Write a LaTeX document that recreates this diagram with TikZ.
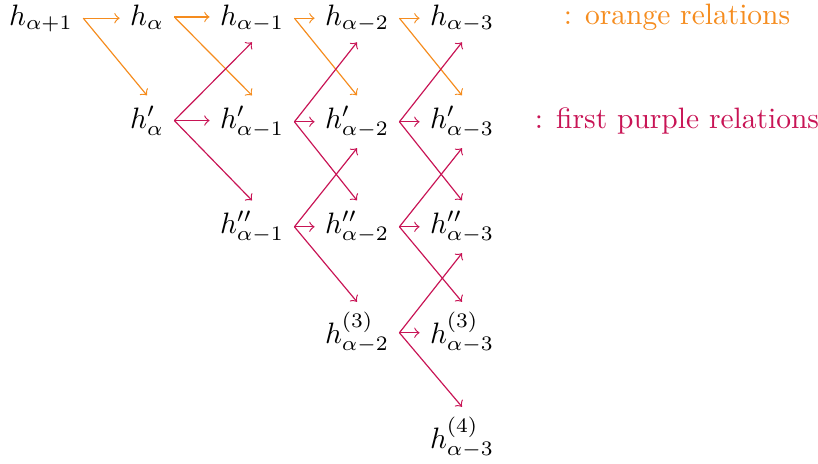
\documentclass[tikz,border=0pt]{standalone}
\usepackage{xcolor}
\definecolor{orel}{RGB}{245,140,30}
\definecolor{purel}{RGB}{200,20,85}
\begin{document}
\begin{tikzpicture}[x=0.339pt,y=-0.339pt,
  mn/.style={anchor=base, inner sep=0.333em},
  oarr/.style={->, draw=orel, line width=0.4pt},
  parr/.style={->, draw=purel, line width=0.4pt},
  lab/.style={anchor=base, inner sep=0pt}]
\useasboundingbox (0,0) rectangle (818,464);
% row 0
\node[mn] (a0) at (41,25)  {$h_{\alpha+1}$};
\node[mn] (a1) at (147,25) {$h_{\alpha}$};
\node[mn] (a2) at (252,25) {$h_{\alpha-1}$};
\node[mn] (a3) at (357,25) {$h_{\alpha-2}$};
\node[mn] (a4) at (462,25) {$h_{\alpha-3}$};
% row 1
\node[mn] (b1) at (147,128) {$h'_{\alpha}$};
\node[mn] (b2) at (252,128) {$h'_{\alpha-1}$};
\node[mn] (b3) at (357,128) {$h'_{\alpha-2}$};
\node[mn] (b4) at (462,128) {$h'_{\alpha-3}$};
% row 2
\node[mn] (c2) at (252,233) {$h''_{\alpha-1}$};
\node[mn] (c3) at (357,233) {$h''_{\alpha-2}$};
\node[mn] (c4) at (462,233) {$h''_{\alpha-3}$};
% row 3
\node[mn] (d3) at (357,343) {$h^{(3)}_{\alpha-2}$};
\node[mn] (d4) at (462,343) {$h^{(3)}_{\alpha-3}$};
% row 4
\node[mn] (e4) at (462,448) {$h^{(4)}_{\alpha-3}$};
% legend
\node[lab, text=orel] (lo) at (677,24) {: orange relations};
\node[lab, text=purel] (lp) at (677,128) {: first purple relations};
% orange relations
\draw[oarr] (a0.east) -- (a1.west |- a0.east);
\draw[oarr] (a0.east) -- (b1.north);
\draw[oarr] (a1.east) -- (a2.west |- a1.east);
\draw[oarr] (a1.east) -- (b2.north);
\draw[oarr] (a2.east) -- (a3.west |- a2.east);
\draw[oarr] (a2.east) -- (b3.north);
\draw[oarr] (a3.east) -- (a4.west |- a3.east);
\draw[oarr] (a3.east) -- (b4.north);
% purple relations
\draw[parr] (b1.east) -- (a2.south);
\draw[parr] (b1.east) -- (b2.west |- b1.east);
\draw[parr] (b1.east) -- (c2.north);
\draw[parr] (b2.east) -- (a3.south);
\draw[parr] (b2.east) -- (b3.west |- b2.east);
\draw[parr] (b2.east) -- (c3.north);
\draw[parr] (b3.east) -- (a4.south);
\draw[parr] (b3.east) -- (b4.west |- b3.east);
\draw[parr] (b3.east) -- (c4.north);
\draw[parr] (c2.east) -- (b3.south);
\draw[parr] (c2.east) -- (c3.west |- c2.east);
\draw[parr] (c2.east) -- (d3.north);
\draw[parr] (c3.east) -- (b4.south);
\draw[parr] (c3.east) -- (c4.west |- c3.east);
\draw[parr] (c3.east) -- (d4.north);
\draw[parr] (d3.east) -- (c4.south);
\draw[parr] (d3.east) -- (d4.west |- d3.east);
\draw[parr] (d3.east) -- (e4.north);
\end{tikzpicture}
\end{document}
